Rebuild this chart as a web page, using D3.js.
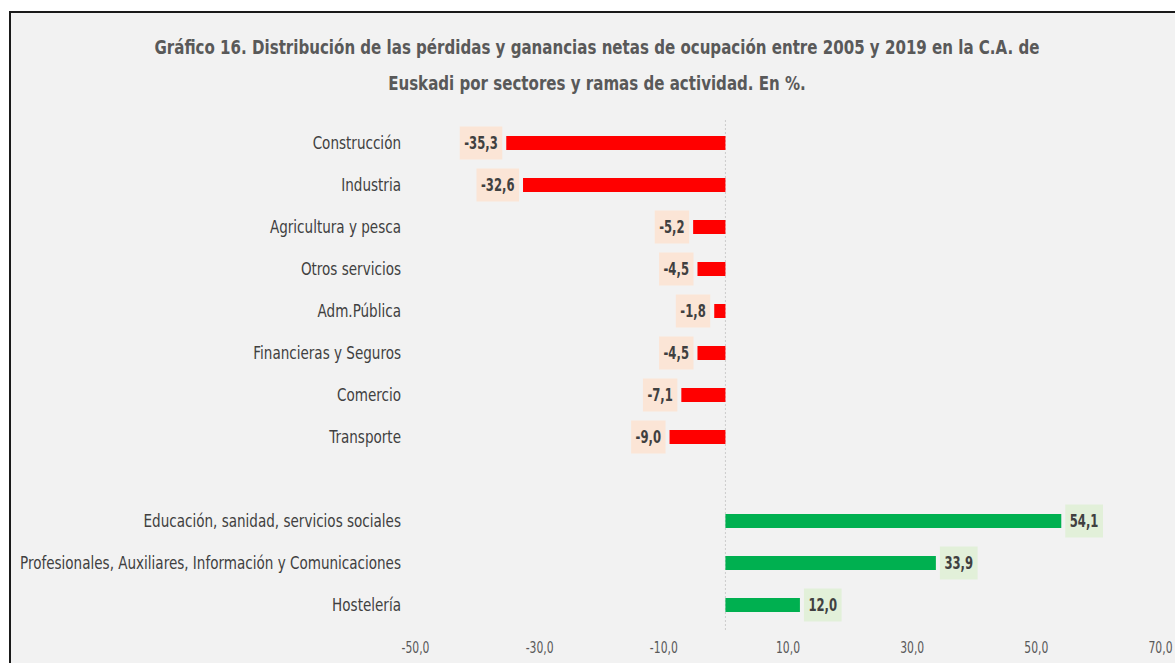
<html>
<head>
<meta charset="utf-8">
<style>
    body { margin: 0; background: #ffffff; }
    text { font-family: "Liberation Sans Narrow", "DejaVu Sans Condensed", "Arial Narrow", sans-serif; }
</style>
</head>
<body>
<div id="chart"><svg></svg></div>
<script src="https://d3js.org/d3.v7.min.js"></script>
<script>
var categories = ["Construcción", "Industria", "Agricultura y pesca", "Otros servicios", "Adm.Pública",
                  "Financieras y Seguros", "Comercio", "Transporte", "",
                  "Educación, sanidad, servicios sociales",
                  "Profesionales, Auxiliares, Información y Comunicaciones", "Hostelería"]
var values = [-35.3, -32.6, -5.2, -4.5, -1.8, -4.5, -7.1, -9.0, null, 54.1, 33.9, 12.0]
var tickValues = [-50, -30, -10, 10, 30, 50, 70]
var titleLines = ["Gráfico 16. Distribución de las pérdidas y ganancias netas de ocupación entre 2005 y 2019 en la C.A. de",
                  "Euskadi por sectores y ramas de actividad. En %."]

var screen = {width: 1175, height: 663}
var fmt = function(v){ return d3.format(".1f")(v).replace(".", ",").replace("−", "-") }

// no narrow font here, so squeeze the text horizontally (Calibri look)
function squeeze(sel, k){
    sel.each(function(){
        var w = this.getComputedTextLength()
        d3.select(this).attr("textLength", w * k).attr("lengthAdjust", "spacingAndGlyphs")
    })
}

var svg = d3.select("#chart svg")
            .attr("width", screen.width)
            .attr("height", screen.height)

// chart area with the dark frame on top and left
svg.append("rect")
    .attr("x", 10).attr("y", 12)
    .attr("width", screen.width + 20).attr("height", screen.height + 20)
    .attr("fill", "#f2f2f2")
    .attr("stroke", "#1a1a1a")
    .attr("stroke-width", 2)

var title = svg.append("g").selectAll("text")
    .data(titleLines)
    .enter()
    .append("text")
    .attr("x", 597)
    .attr("y", function(d, i){ return 54 + i * 36 })
    .attr("text-anchor", "middle")
    .attr("font-size", 20)
    .attr("font-weight", "bold")
    .attr("fill", "#595959")
    .text(function(d){ return d })
var titleK = 885 / title.node().getComputedTextLength()
squeeze(title, titleK)

var xScale = d3.scaleLinear().domain([-50, 70]).range([415, 1160])
var yScale = d3.scalePoint().domain(categories).range([122, 626]).padding(0.5)
var barH = 14

// zero line
svg.append("line")
    .attr("x1", xScale(0)).attr("x2", xScale(0))
    .attr("y1", 120).attr("y2", 632)
    .attr("stroke", "#cccccc")
    .attr("stroke-dasharray", "2,2")

var xAxis = d3.axisBottom(xScale)
              .tickValues(tickValues)
              .tickSize(0)
              .tickPadding(5)
              .tickFormat(fmt)
var axis = svg.append("g")
    .attr("transform", "translate(0,637)")
    .call(xAxis)
axis.select(".domain").remove()
axis.selectAll("text")
    .attr("font-size", 15)
    .attr("fill", "#595959")
    .style("font-family", "'Liberation Sans Narrow', 'DejaVu Sans Condensed', sans-serif")
squeeze(axis.selectAll("text"), 0.8)

var rows = categories.map(function(c, i){ return {cat: c, value: values[i]} })
                     .filter(function(d){ return d.value !== null })

// category labels
var catLabels = svg.append("g").selectAll("text")
    .data(rows)
    .enter()
    .append("text")
    .attr("x", 401)
    .attr("y", function(d){ return yScale(d.cat) })
    .attr("dy", "0.35em")
    .attr("text-anchor", "end")
    .attr("font-size", 17)
    .attr("fill", "#404040")
    .text(function(d){ return d.cat })
var longest = catLabels.filter(function(d){ return d.cat.indexOf("Profesionales") === 0 }).node()
squeeze(catLabels, 381 / longest.getComputedTextLength())

// bars
svg.append("g").selectAll("rect")
    .data(rows)
    .enter()
    .append("rect")
    .attr("x", function(d){ return xScale(Math.min(0, d.value)) })
    .attr("y", function(d){ return yScale(d.cat) - barH / 2 })
    .attr("width", function(d){ return Math.abs(xScale(d.value) - xScale(0)) })
    .attr("height", barH)
    .attr("fill", function(d){ return d.value < 0 ? "#ff0000" : "#00b050" })

// value labels with shaded boxes
var labels = svg.append("g").selectAll("g")
    .data(rows)
    .enter()
    .append("g")
var boxes = labels.append("rect")
var texts = labels.append("text")
    .attr("y", function(d){ return yScale(d.cat) })
    .attr("dy", "0.35em")
    .attr("font-size", 17)
    .attr("font-weight", "bold")
    .attr("fill", "#404040")
    .attr("text-anchor", "middle")
    .text(function(d){ return fmt(d.value) })
squeeze(texts, 0.76)
texts.each(function(d){
    var w = +d3.select(this).attr("textLength") + 9
    var cx = d.value < 0 ? xScale(d.value) - 4 - w / 2 : xScale(d.value) + 4 + w / 2
    d3.select(this).attr("x", cx)
    d3.select(this.previousSibling)
        .attr("x", cx - w / 2)
        .attr("y", yScale(d.cat) - 16.5)
        .attr("width", w)
        .attr("height", 33)
        .attr("fill", d.value < 0 ? "#fbe5d6" : "#e2f0d9")
})
</script>
</body>
</html>
